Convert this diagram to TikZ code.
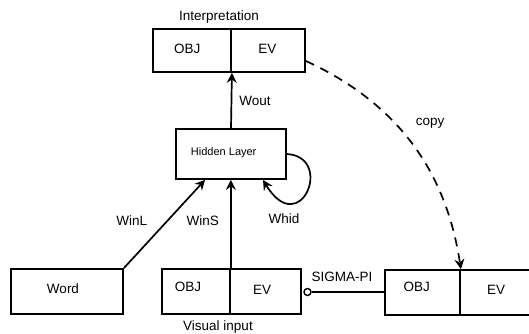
\documentclass[tikz,border=0pt]{standalone}
\usepackage{fontspec}
\setmainfont{Liberation Sans}
\usetikzlibrary{arrows.meta}
\begin{document}
\begin{tikzpicture}[x=1pt,y=-1pt,
  box/.style={draw, line width=1.8pt, inner sep=0pt, minimum height=45pt},
  lbl/.style={anchor=base, inner sep=0pt, font=\fontsize{13.5}{16}\selectfont},
  arr/.style={line width=1.7pt, -{Stealth[length=10pt,width=10pt,inset=3.5pt]}},
]
\useasboundingbox (0,0) rectangle (529,333);
% boxes
\node[box, minimum width=78pt, minimum height=43pt] (iobj) at (192,50.5) {};
\node[box, minimum width=74pt, minimum height=43pt] (iev) at (268,50.5) {};
\node[box, minimum width=110pt, minimum height=50pt] (hid) at (231,154) {};
\node[box, minimum width=112pt] (word) at (67,291.5) {};
\node[box, minimum width=68pt] (vobj) at (196,291.5) {};
\node[box, minimum width=71pt] (vev) at (265.5,291.5) {};
\node[box, minimum width=75pt] (robj) at (422.5,292.5) {};
\node[box, minimum width=76pt] (rev) at (498,292.5) {};
% texts
\node[lbl] (tinterp) at (219,20) {Interpretation};
\node[lbl] (tiobj) at (187.3,53.3) {OBJ};
\node[lbl] (tiev) at (267.3,53.3) {EV};
\node[lbl, font=\fontsize{11}{13}\selectfont] (thid) at (223.7,155.3) {Hidden Layer};
\node[lbl] (twout) at (255,105) {Wout};
\node[lbl] (twinl) at (131.7,225) {WinL};
\node[lbl] (twins) at (202.7,225) {WinS};
\node[lbl] (twhid) at (284,223.3) {Whid};
\node[lbl] (tword) at (63,293.3) {Word};
\node[lbl] (tvobj) at (188,291.7) {OBJ};
\node[lbl] (tvev) at (262,294.3) {EV};
\node[lbl] (tvis) at (218,330.7) {Visual input};
\node[lbl] (tsig) at (342,281.7) {SIGMA-PI};
\node[lbl] (tcopy) at (430,125) {copy};
\node[lbl] (trobj) at (416.7,291.7) {OBJ};
\node[lbl] (trev) at (496,294.3) {EV};
% connectors
\draw[arr] (hid.north) -- (iobj.south east);
\draw[arr] (vobj.north east) -- (vobj.north east |- hid.south);
\draw[arr] (word.north east) -- ([xshift=-26pt]hid.south);
\draw[arr] (hid.east) .. controls +(48,3) and +(37,61) .. ([xshift=32pt]hid.south);
\draw[arr, dash pattern=on 9pt off 7pt] ([yshift=-10.5pt]iev.east) .. controls +(91,42) and +(-15,-99) .. (robj.north east);
\node[circle, draw, line width=1.4pt, minimum size=7pt, inner sep=0pt] (sp) at (307.5,292) {};
\draw[line width=1.6pt] (sp) -- (sp -| robj.west);
\end{tikzpicture}
\end{document}
